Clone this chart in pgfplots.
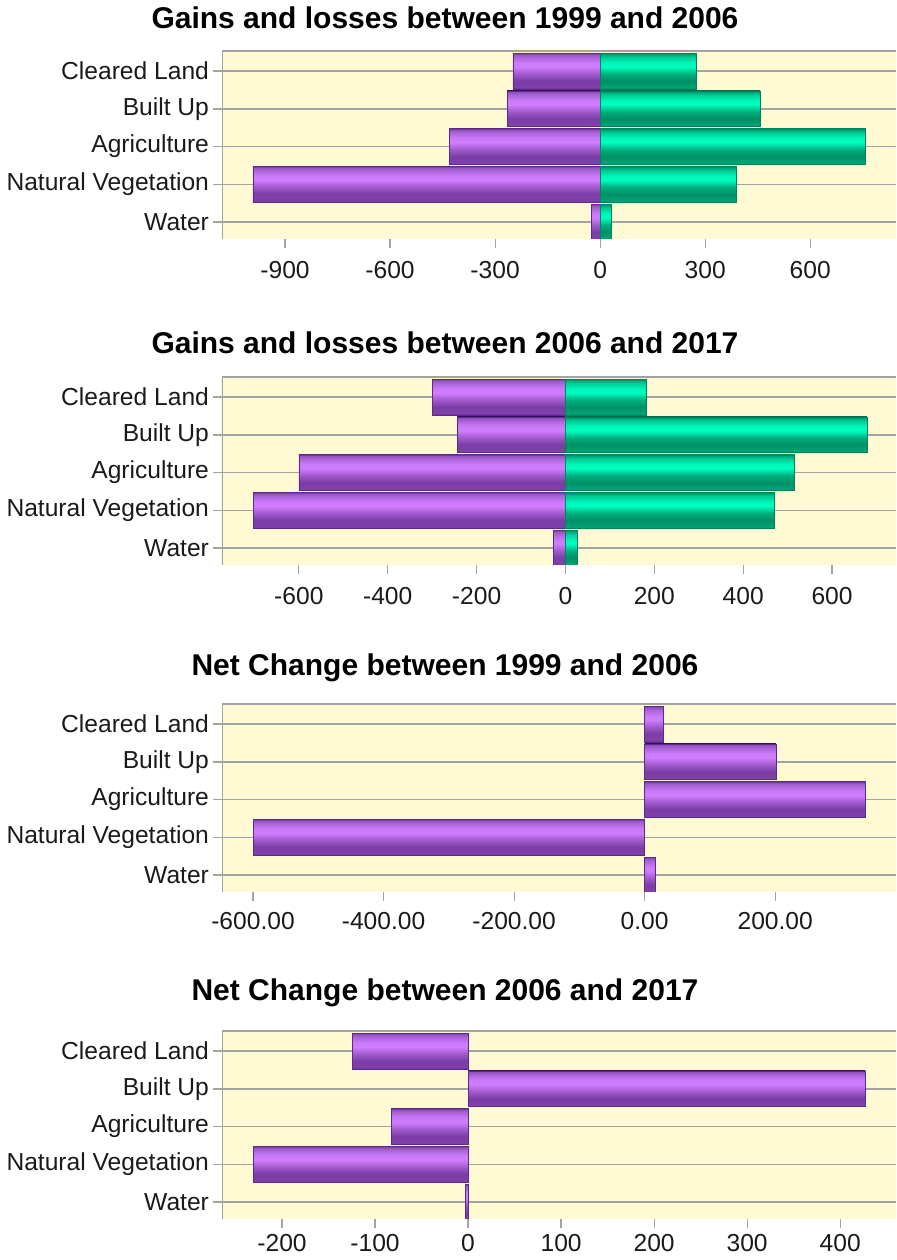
\documentclass[border=0pt]{standalone}
\usepackage{pgfplots}
\pgfplotsset{compat=1.18}
\usepackage{fontspec}
\setmainfont{Liberation Sans}
\definecolor{bgy}{HTML}{FFFAD4}
\definecolor{gridg}{HTML}{A3A3A3}
\definecolor{txt}{HTML}{1A1A1A}
\definecolor{pEdge}{HTML}{5E2A86}
\definecolor{pA}{HTML}{8040AE}
\definecolor{pB}{HTML}{7A3DA5}
\definecolor{pC}{HTML}{A05ACC}
\definecolor{pD}{HTML}{D07EFF}
\definecolor{pE}{HTML}{C97AF8}
\definecolor{pF}{HTML}{A862D6}
\definecolor{pG}{HTML}{9050BE}
\definecolor{gEdge}{HTML}{00845E}
\definecolor{gA}{HTML}{00A575}
\definecolor{gB}{HTML}{008F66}
\definecolor{gC}{HTML}{00B07E}
\definecolor{gD}{HTML}{00FFC0}
\definecolor{gE}{HTML}{00F5B8}
\definecolor{gF}{HTML}{00C892}
\definecolor{gG}{HTML}{00A070}
\pgfdeclareverticalshading{purplebar}{100bp}{color(0bp)=(pEdge); color(25bp)=(pEdge); color(27bp)=(pA); color(36bp)=(pB); color(46bp)=(pC); color(56bp)=(pD); color(62bp)=(pE); color(70bp)=(pF); color(73.5bp)=(pG); color(75bp)=(pEdge); color(100bp)=(pEdge)}
\pgfdeclareverticalshading{greenbar}{100bp}{color(0bp)=(gEdge); color(25bp)=(gEdge); color(27bp)=(gA); color(36bp)=(gB); color(46bp)=(gC); color(56bp)=(gD); color(62bp)=(gE); color(70bp)=(gF); color(73.5bp)=(gG); color(75bp)=(gEdge); color(100bp)=(gEdge)}
\pgfplotsset{
  panel/.style={
    scale only axis, width=337pt, height=94pt,
    xbar, bar width=0.95,
    ymin=-0.45, ymax=4.53,
    ytick={0,1,2,3,4},
    yticklabels={Water,Natural Vegetation,Agriculture,Built Up,Cleared Land},
    ymajorgrids, xmajorgrids=false,
    grid style={gridg, line width=0.75pt},
    axis background/.style={fill=bgy},
    axis line style={draw=none},
    tick align=outside, xtick pos=bottom, ytick pos=left,
    x tick style={gridg, line width=0.6pt},
    y tick style={gridg, line width=0.75pt},
    major tick length=4.5pt,
    tick label style={font=\fontsize{12.3}{14}\selectfont, text=txt},
    yticklabel style={xshift=1.5pt},
    /pgf/number format/assume math mode=true,
  },
  pbar/.style={xbar, bar shift=0pt, draw=pEdge, line width=0.3pt, shade, shading=purplebar},
  gbar/.style={xbar, bar shift=0pt, draw=gEdge, line width=0.3pt, shade, shading=greenbar},
}
\newcommand{\frameaxis}{\draw[gridg, line width=0.8pt] (rel axis cs:0,0) -- (rel axis cs:0,1) -- (rel axis cs:1,1);}
% one bar per plot so that each bar gets its own shading
\newcommand{\pb}[2]{\addplot[pbar] coordinates {(#1,#2)};}
\newcommand{\gb}[2]{\addplot[gbar] coordinates {(#1,#2)};}
\begin{document}
\begin{tikzpicture}
\useasboundingbox (0,0) rectangle (448pt,630pt);
\tikzset{ttl/.style={font=\bfseries\fontsize{15}{18}\selectfont, text=black}}
\node[ttl] at (222.5pt,621pt) {Gains and losses between 1999 and 2006};
\node[ttl] at (222.5pt,458.5pt) {Gains and losses between 2006 and 2017};
\node[ttl] at (222.5pt,296pt) {Net Change between 1999 and 2006};
\node[ttl] at (222.5pt,133.5pt) {Net Change between 2006 and 2017};

% Panel 1: losses (purple) and gains (green), 1999-2006
\begin{axis}[panel, at={(111pt,604.5pt)}, anchor=north west,
  xmin=-1080, xmax=845,
  xtick={-900,-600,-300,0,300,600},
  xticklabels={-900,-600,-300,0,300,600},
  xticklabel style={yshift=-3pt}]
\pb{-249}{4} \pb{-266}{3} \pb{-431}{2} \pb{-992}{1} \pb{-24}{0}
\gb{274}{4} \gb{457}{3} \gb{757}{2} \gb{389}{1} \gb{31}{0}
\frameaxis
\end{axis}

% Panel 2: 2006-2017
\begin{axis}[panel, at={(111pt,441.5pt)}, anchor=north west,
  xmin=-773, xmax=744,
  xtick={-600,-400,-200,0,200,400,600},
  xticklabels={-600,-400,-200,0,200,400,600},
  xticklabel style={yshift=-3pt}]
\pb{-300}{4} \pb{-244}{3} \pb{-600}{2} \pb{-703}{1} \pb{-28}{0}
\gb{181}{4} \gb{679}{3} \gb{516}{2} \gb{469}{1} \gb{26}{0}
\frameaxis
\end{axis}

% Panel 3: net change 1999-2006
\begin{axis}[panel, at={(111pt,278pt)}, anchor=north west,
  xmin=-647.5, xmax=385,
  xtick={-600,-400,-200,0,200},
  xticklabels={-600.00,-400.00,-200.00,0.00,200.00},
  xticklabel style={yshift=-2pt}]
\pb{28}{4} \pb{201}{3} \pb{338}{2} \pb{-600}{1} \pb{16}{0}
\frameaxis
\end{axis}

% Panel 4: net change 2006-2017
\begin{axis}[panel, at={(111pt,114.5pt)}, anchor=north west,
  xmin=-264.5, xmax=460,
  xtick={-200,-100,0,100,200,300,400},
  xticklabels={-200,-100,0,100,200,300,400},
  xticklabel style={yshift=0.5pt}]
\pb{-124}{4} \pb{427}{3} \pb{-82}{2} \pb{-231}{1} \pb{-3}{0}
\frameaxis
\end{axis}
\end{tikzpicture}
\end{document}
